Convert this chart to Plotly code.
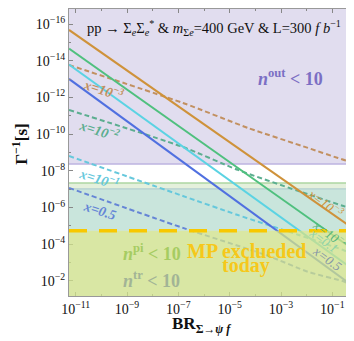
import plotly.graph_objects as go

# ---------------- data (log10 values) ----------------
br_range_log = [-11.26, 0.0]
tau_range_log = [-1.18, -16.82]

# solid curves: end points (log10 BR, log10 Gamma^-1)
solid_br_log = [-11.26, 0.0]
solid_x1e3_log = [-15.68, -4.67]
solid_x1e2_log = [-14.66, -3.53]
solid_x1e1_log = [-13.79, -2.44]
solid_x05_log = [-13.01, -1.52]

# dashed curves
dash_x1e3_br = [-11.26, -6.82, -4.29, -1.95, -0.78, -0.39, -0.20, -0.08, 0.0]
dash_x1e3_tau = [-13.77, -11.70, -10.34, -9.25, -8.70, -8.54, -8.59, -8.98, -9.90]
dash_x1e2_br = [-11.26, -6.82, -4.68, -2.34, -0.6, -0.275, -0.08, 0.0]
dash_x1e2_tau = [-11.32, -9.30, -8.05, -6.91, -6.10, -5.98, -6.20, -6.80]
dash_x1e1_br = [-11.26, -6.82, -4.68, -2.34, -0.6, -0.275, -0.08, 0.0]
dash_x1e1_tau = [-8.81, -6.63, -5.59, -4.52, -3.70, -3.53, -3.80, -4.62]
dash_x05_br = [-11.26, -6.82, -3.51, -1.95, -0.6, -0.39, -0.08, 0.0]
dash_x05_tau = [-7.07, -4.89, -3.37, -2.50, -2.00, -1.90, -2.17, -2.82]

# region limits (log10 Gamma^-1)
n_out_limit_log = -8.38
n_pi_limit_log = -7.34
n_tr_limit_log = -7.02
mp_limit_log = -4.73

x_tick_logs = [-11, -9, -7, -5, -3, -1, 0]
x_tick_text = ["10<sup>−11</sup>", "10<sup>−9</sup>", "10<sup>−7</sup>", "10<sup>−5</sup>",
               "10<sup>−3</sup>", "10<sup>−1</sup>", "1"]
y_tick_logs = [-16, -14, -12, -10, -8, -6, -4, -2]
y_tick_text = ["10<sup>−%d</sup>" % (-v) for v in y_tick_logs]

ORANGE = "#cf923a"
GREEN = "#4fc07e"
CYAN = "#5bd3e3"
BLUE = "#5070e0"
ORANGE_D = "#c29060"
GREEN_D = "#5cae90"
CYAN_D = "#66c8dc"
BLUE_D = "#6585d6"
FONT = "Liberation Serif"


def p(v):
    return [10 ** a for a in v]


fig = go.Figure()

for br, tau, col in [
    (dash_x1e3_br, dash_x1e3_tau, ORANGE_D),
    (dash_x1e2_br, dash_x1e2_tau, GREEN_D),
    (dash_x1e1_br, dash_x1e1_tau, CYAN_D),
    (dash_x05_br, dash_x05_tau, BLUE_D),
]:
    fig.add_trace(go.Scatter(x=p(br), y=p(tau), mode="lines",
                             line=dict(color=col, width=2, dash="5px,3px", shape="spline", smoothing=0.6),
                             showlegend=False, hoverinfo="skip"))

for tau, col in [
    (solid_x1e3_log, ORANGE),
    (solid_x1e2_log, GREEN),
    (solid_x1e1_log, CYAN),
    (solid_x05_log, BLUE),
]:
    fig.add_trace(go.Scatter(x=p(solid_br_log), y=p(tau), mode="lines",
                             line=dict(color=col, width=2),
                             showlegend=False, hoverinfo="skip"))

top = 10 ** tau_range_log[1]
bot = 10 ** tau_range_log[0]
mp = 10 ** mp_limit_log

shapes = [
    # n_out region (purple)
    dict(type="rect", xref="paper", yref="y", x0=0, x1=1, y0=top, y1=10 ** n_out_limit_log,
         fillcolor="#e1ddef", line=dict(width=0), layer="below"),
    dict(type="line", xref="paper", yref="y", x0=0, x1=1, y0=10 ** n_out_limit_log, y1=10 ** n_out_limit_log,
         line=dict(color="#bcb3e0", width=1.5), layer="below"),
    # n_pi region (light green)
    dict(type="rect", xref="paper", yref="y", x0=0, x1=1, y0=10 ** n_pi_limit_log, y1=mp,
         fillcolor="#e4f0dc", line=dict(width=0), layer="below"),
    dict(type="line", xref="paper", yref="y", x0=0, x1=1, y0=10 ** n_pi_limit_log, y1=10 ** n_pi_limit_log,
         line=dict(color="#acd6a2", width=1.5), layer="below"),
    # n_tr region (teal)
    dict(type="rect", xref="paper", yref="y", x0=0, x1=1, y0=10 ** n_tr_limit_log, y1=mp,
         fillcolor="#c9e5dc", line=dict(width=0), layer="below"),
    dict(type="line", xref="paper", yref="y", x0=0, x1=1, y0=10 ** n_tr_limit_log, y1=10 ** n_tr_limit_log,
         line=dict(color="#b4cfd0", width=1.2), layer="below"),
    # MP excluded (yellow overlay)
    dict(type="rect", xref="paper", yref="y", x0=0, x1=1, y0=mp, y1=bot,
         fillcolor="#cee08b", opacity=0.78, line=dict(width=0), layer="above"),
    dict(type="line", xref="paper", yref="y", x0=0, x1=1, y0=mp, y1=mp,
         line=dict(color="#f8c800", width=3.5, dash="18px,12px"), layer="above"),
]

ann = []


def A(text, x, y, color, size, angle=0, bold=False, italic=False):
    t = text
    if italic:
        t = "<i>" + t + "</i>"
    if bold:
        t = "<b>" + t + "</b>"
    ann.append(dict(text=t, x=x, y=y, xref="paper", yref="paper", showarrow=False,
                    xanchor="center", yanchor="middle", textangle=angle,
                    font=dict(family=FONT, size=size, color=color)))


A("pp → Σ<sub><i>e</i></sub>Σ<sub><i>e</i></sub><sup>*</sup> &amp; <i>m</i><sub>Σ<i>e</i></sub>=400 GeV &amp; L=300 <i>f b</i><sup>−1</sup>",
  0.5, 0.934, "#111111", 14.5)
A("<i>n</i><sup>out</sup> &lt; 10", 0.768, 0.76, "#7b6fc4", 18, bold=True)
A("<i>n</i><sup>pi</sup> &lt; 10", 0.287, 0.15, "#a6cc62", 18, bold=True)
A("<i>n</i><sup>tr</sup> &lt; 10", 0.287, 0.056, "#a2b496", 18, bold=True)
A("MP exclueded", 0.614, 0.157, "#f6c81a", 20, bold=True)
A("today", 0.614, 0.105, "#f6c81a", 20, bold=True)

A("x=10<sup>−3</sup>", 0.118, 0.72, ORANGE_D, 14, angle=18, bold=True, italic=True)
A("x=10<sup>−2</sup>", 0.107, 0.58, GREEN_D, 14, angle=18, bold=True, italic=True)
A("x=10<sup>−1</sup>", 0.104, 0.412, CYAN_D, 14, angle=18, bold=True, italic=True)
A("x=0.5", 0.104, 0.298, BLUE_D, 14, angle=18, bold=True, italic=True)

A("x=10<sup>−3</sup>", 0.889, 0.324, ORANGE, 13, angle=36, italic=True)
A("x=10<sup>−2</sup>", 0.907, 0.216, "#57b57c", 13, angle=36, italic=True)
A("x=0.1", 0.882, 0.195, "#8fd4aa", 13, angle=36, italic=True)
A("x=0.5", 0.893, 0.129, "#8596a8", 13, angle=36, italic=True)

# axis titles
ann.append(dict(text="<b>Γ<sup>−1</sup>[s]</b>", x=-0.17, y=0.53, xref="paper", yref="paper",
                showarrow=False, textangle=-90, xanchor="center", yanchor="middle",
                font=dict(family=FONT, size=17, color="#111111")))
ann.append(dict(text="<b>BR</b><sub><b>Σ→</b><i><b>ψ f</b></i></sub>", x=0.46, y=-0.1, xref="paper", yref="paper",
                showarrow=False, xanchor="center", yanchor="middle",
                font=dict(family=FONT, size=17, color="#111111")))

axis_common = dict(type="log", showgrid=False, zeroline=False, showline=True, mirror="allticks",
                   linecolor="#999999", linewidth=1, ticks="inside", ticklen=4, tickcolor="#888888",
                   tickfont=dict(family=FONT, size=14, color="#111111"))

x_minor = [10 ** v for v in range(-11, 1)]
y_minor = [10 ** v for v in range(-16, -1)]

fig.update_layout(
    width=354, height=341,
    margin=dict(l=61, r=4, t=1, b=53),
    paper_bgcolor="white", plot_bgcolor="white",
    showlegend=False,
    shapes=shapes,
    annotations=ann,
    xaxis=dict(range=br_range_log, tickvals=[10 ** v for v in x_tick_logs], ticktext=x_tick_text,
               minor=dict(tickvals=x_minor, ticks="inside", ticklen=2, tickcolor="#888888"),
               **axis_common),
    yaxis=dict(range=tau_range_log, tickvals=[10 ** v for v in y_tick_logs], ticktext=y_tick_text,
               minor=dict(tickvals=y_minor, ticks="inside", ticklen=2, tickcolor="#888888"),
               **axis_common),
)

fig.write_html("out.html")
